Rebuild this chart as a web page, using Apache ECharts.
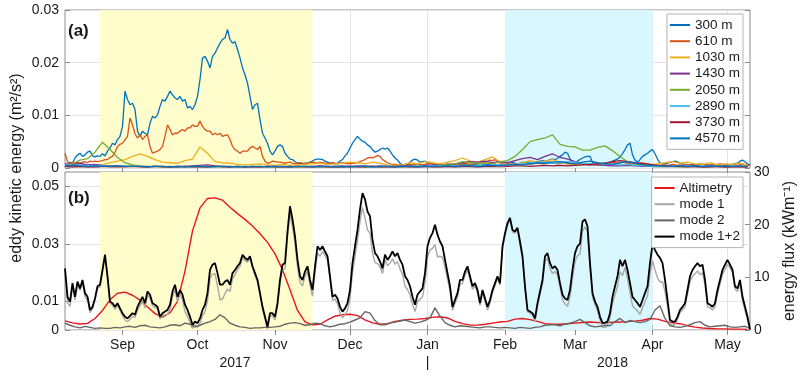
<!DOCTYPE html>
<html>
<head>
<meta charset="utf-8">
<title>EKE and energy flux</title>
<script src="https://cdn.jsdelivr.net/npm/echarts@6/dist/echarts.min.js"></script>
<style>
    html, body { margin: 0; padding: 0; background: #fff; }
    #main { width: 800px; height: 376px; }
</style>
</head>
<body>
<div id="main"></div>
<script>
    // time range and ticks
    var startDate = '2017-08-09';
    var endDate = '2018-05-10';
    var monthTicks = ['2017-09-01', '2017-10-01', '2017-11-01', '2017-12-01', '2018-01-01',
                      '2018-02-01', '2018-03-01', '2018-04-01', '2018-05-01'];
    var monthLabels = ['Sep', 'Oct', 'Nov', 'Dec', 'Jan', 'Feb', 'Mar', 'Apr', 'May'];
    var yearTicks = ['2017-10-16', '2018-01-01', '2018-03-16'];
    var yearLabels = ['2017', '|', '2018'];
    var shadeYellow = ['2017-08-23', '2017-11-16'];
    var shadeCyan = ['2018-02-01', '2018-04-01'];
    var ekeTicksB = [0, 0.01, 0.03, 0.05];

    // (a) eddy kinetic energy by depth (m2/s2)
    var depthNames = ['300 m', '610 m', '1030 m', '1430 m', '2050 m', '2890 m', '3730 m', '4570 m'];

    // daily values
    var eke300 = [
        0.0006, 0.0008, 0.0011, 0.0009, 0.0019, 0.0025, 0.0028, 0.0022, 0.0025, 0.0030,
        0.0032, 0.0023, 0.0021, 0.0023, 0.0022, 0.0027, 0.0023, 0.0032, 0.0038, 0.0047,
        0.0044, 0.0054, 0.0060, 0.0079, 0.0146, 0.0130, 0.0120, 0.0123, 0.0111, 0.0070,
        0.0060, 0.0070, 0.0066, 0.0063, 0.0085, 0.0098, 0.0095, 0.0101, 0.0117, 0.0130,
        0.0127, 0.0136, 0.0146, 0.0139, 0.0133, 0.0130, 0.0136, 0.0127, 0.0130, 0.0114,
        0.0117, 0.0111, 0.0120, 0.0136, 0.0168, 0.0209, 0.0212, 0.0203, 0.0190, 0.0212,
        0.0218, 0.0228, 0.0237, 0.0244, 0.0247, 0.0263, 0.0244, 0.0237, 0.0240, 0.0225,
        0.0209, 0.0190, 0.0177, 0.0161, 0.0136, 0.0111, 0.0120, 0.0123, 0.0092, 0.0066,
        0.0057, 0.0047, 0.0032, 0.0025, 0.0032, 0.0041, 0.0044, 0.0041, 0.0028, 0.0022,
        0.0017, 0.0016, 0.0012, 0.0009, 0.0009, 0.0008, 0.0009, 0.0009, 0.0011, 0.0013,
        0.0016, 0.0017, 0.0017, 0.0016, 0.0013, 0.0011, 0.0009, 0.0009, 0.0008, 0.0009,
        0.0013, 0.0016, 0.0023, 0.0028, 0.0038, 0.0047, 0.0054, 0.0060, 0.0055, 0.0051,
        0.0049, 0.0044, 0.0041, 0.0035, 0.0030, 0.0032, 0.0035, 0.0038, 0.0036, 0.0038,
        0.0032, 0.0025, 0.0019, 0.0015, 0.0009, 0.0006, 0.0006, 0.0007, 0.0011, 0.0015,
        0.0017, 0.0015, 0.0011, 0.0012, 0.0013, 0.0009, 0.0011, 0.0008, 0.0007, 0.0006,
        0.0006, 0.0007, 0.0006, 0.0005, 0.0006, 0.0007, 0.0006, 0.0005, 0.0006, 0.0007,
        0.0006, 0.0006, 0.0005, 0.0006, 0.0007, 0.0006, 0.0005, 0.0006, 0.0006, 0.0007,
        0.0006, 0.0005, 0.0006, 0.0006, 0.0007, 0.0006, 0.0008, 0.0009, 0.0009, 0.0011,
        0.0009, 0.0008, 0.0009, 0.0011, 0.0009, 0.0011, 0.0011, 0.0009, 0.0011, 0.0012,
        0.0013, 0.0014, 0.0013, 0.0013, 0.0016, 0.0017, 0.0016, 0.0018, 0.0022, 0.0025,
        0.0030, 0.0028, 0.0017, 0.0012, 0.0009, 0.0013, 0.0016, 0.0019, 0.0021, 0.0022,
        0.0022, 0.0011, 0.0009, 0.0009, 0.0008, 0.0009, 0.0009, 0.0009, 0.0011, 0.0013,
        0.0015, 0.0017, 0.0021, 0.0027, 0.0035, 0.0044, 0.0047, 0.0025, 0.0015, 0.0011,
        0.0016, 0.0022, 0.0025, 0.0028, 0.0032, 0.0035, 0.0027, 0.0017, 0.0009, 0.0008,
        0.0008, 0.0009, 0.0011, 0.0012, 0.0013, 0.0012, 0.0009, 0.0008, 0.0007, 0.0006,
        0.0006, 0.0007, 0.0006, 0.0005, 0.0006, 0.0007, 0.0006, 0.0006, 0.0005, 0.0006,
        0.0007, 0.0006, 0.0005, 0.0006, 0.0006, 0.0005, 0.0006, 0.0007, 0.0008, 0.0009,
        0.0013, 0.0015, 0.0012, 0.0008, 0.0006
    ];
    var eke610 = [
        0.0028, 0.0012, 0.0009, 0.0010, 0.0009, 0.0010, 0.0009, 0.0011, 0.0012, 0.0010,
        0.0013, 0.0012, 0.0013, 0.0012, 0.0013, 0.0014, 0.0016, 0.0016, 0.0020, 0.0022,
        0.0030, 0.0041, 0.0045, 0.0047, 0.0054, 0.0060, 0.0095, 0.0082, 0.0065, 0.0057,
        0.0063, 0.0054, 0.0060, 0.0063, 0.0041, 0.0028, 0.0030, 0.0032, 0.0035, 0.0041,
        0.0060, 0.0082, 0.0073, 0.0063, 0.0066, 0.0066, 0.0070, 0.0073, 0.0070, 0.0076,
        0.0076, 0.0082, 0.0079, 0.0079, 0.0089, 0.0079, 0.0073, 0.0070, 0.0070, 0.0063,
        0.0066, 0.0063, 0.0066, 0.0060, 0.0062, 0.0063, 0.0054, 0.0041, 0.0035, 0.0032,
        0.0028, 0.0032, 0.0032, 0.0032, 0.0038, 0.0041, 0.0038, 0.0035, 0.0041, 0.0022,
        0.0013, 0.0009, 0.0010, 0.0013, 0.0012, 0.0011, 0.0011, 0.0010, 0.0009, 0.0010,
        0.0011, 0.0009, 0.0008, 0.0009, 0.0010, 0.0009, 0.0008, 0.0009, 0.0010, 0.0011,
        0.0010, 0.0009, 0.0011, 0.0010, 0.0009, 0.0008, 0.0009, 0.0010, 0.0009, 0.0008,
        0.0009, 0.0010, 0.0009, 0.0008, 0.0009, 0.0009, 0.0009, 0.0010, 0.0012, 0.0014,
        0.0016, 0.0019, 0.0020, 0.0019, 0.0021, 0.0024, 0.0022, 0.0016, 0.0013, 0.0010,
        0.0008, 0.0007, 0.0007, 0.0006, 0.0005, 0.0006, 0.0007, 0.0008, 0.0007, 0.0006,
        0.0007, 0.0008, 0.0007, 0.0006, 0.0007, 0.0008, 0.0009, 0.0008, 0.0007, 0.0006,
        0.0007, 0.0006, 0.0007, 0.0008, 0.0007, 0.0006, 0.0007, 0.0008, 0.0007, 0.0008,
        0.0009, 0.0008, 0.0007, 0.0008, 0.0009, 0.0008, 0.0009, 0.0010, 0.0010, 0.0013,
        0.0015, 0.0014, 0.0016, 0.0012, 0.0010, 0.0008, 0.0007, 0.0006, 0.0007, 0.0008,
        0.0007, 0.0006, 0.0007, 0.0008, 0.0009, 0.0008, 0.0007, 0.0008, 0.0009, 0.0010,
        0.0009, 0.0008, 0.0009, 0.0010, 0.0011, 0.0010, 0.0009, 0.0008, 0.0009, 0.0010,
        0.0009, 0.0008, 0.0007, 0.0008, 0.0007, 0.0006, 0.0007, 0.0008, 0.0007, 0.0006,
        0.0006, 0.0007, 0.0008, 0.0007, 0.0006, 0.0007, 0.0008, 0.0009, 0.0010, 0.0011,
        0.0010, 0.0009, 0.0010, 0.0011, 0.0010, 0.0009, 0.0008, 0.0009, 0.0008, 0.0007,
        0.0007, 0.0006, 0.0007, 0.0008, 0.0007, 0.0006, 0.0005, 0.0006, 0.0005, 0.0006,
        0.0006, 0.0005, 0.0006, 0.0007, 0.0006, 0.0005, 0.0006, 0.0005, 0.0006, 0.0007,
        0.0006, 0.0005, 0.0006, 0.0007, 0.0008, 0.0007, 0.0006, 0.0005, 0.0006, 0.0007,
        0.0006, 0.0007, 0.0008, 0.0007, 0.0006, 0.0005, 0.0006, 0.0007, 0.0006, 0.0005,
        0.0006, 0.0007, 0.0006, 0.0005, 0.0005
    ];

    // every 3 days
    var eke1030 = [
        0.0008, 0.0006, 0.0006, 0.0005, 0.0005, 0.0006, 0.0010, 0.0013, 0.0016, 0.0022,
        0.0027, 0.0022, 0.0016, 0.0011, 0.0010, 0.0009, 0.0014, 0.0017, 0.0040, 0.0028,
        0.0012, 0.0010, 0.0009, 0.0007, 0.0006, 0.0007, 0.0008, 0.0006, 0.0005, 0.0007,
        0.0005, 0.0006, 0.0007, 0.0008, 0.0009, 0.0007, 0.0008, 0.0009, 0.0011, 0.0010,
        0.0008, 0.0011, 0.0009, 0.0006, 0.0005, 0.0006, 0.0010, 0.0008, 0.0012, 0.0010,
        0.0008, 0.0011, 0.0014, 0.0019, 0.0013, 0.0011, 0.0016, 0.0021, 0.0012, 0.0008,
        0.0007, 0.0010, 0.0014, 0.0011, 0.0013, 0.0016, 0.0011, 0.0008, 0.0007, 0.0006,
        0.0008, 0.0005, 0.0006, 0.0007, 0.0006, 0.0005, 0.0007, 0.0009, 0.0006, 0.0008,
        0.0010, 0.0012, 0.0009, 0.0011, 0.0008, 0.0007, 0.0010, 0.0006, 0.0008, 0.0007,
        0.0009, 0.0006
    ];
    var eke1430 = [
        0.0008, 0.0007, 0.0009, 0.0006, 0.0007, 0.0005, 0.0004, 0.0004, 0.0003, 0.0003,
        0.0003, 0.0002, 0.0003, 0.0003, 0.0002, 0.0003, 0.0003, 0.0004, 0.0005, 0.0006,
        0.0004, 0.0003, 0.0003, 0.0002, 0.0002, 0.0003, 0.0002, 0.0003, 0.0003, 0.0002,
        0.0003, 0.0002, 0.0003, 0.0003, 0.0004, 0.0003, 0.0003, 0.0004, 0.0003, 0.0004,
        0.0004, 0.0003, 0.0004, 0.0003, 0.0003, 0.0004, 0.0005, 0.0004, 0.0005, 0.0006,
        0.0005, 0.0007, 0.0008, 0.0010, 0.0012, 0.0011, 0.0013, 0.0010, 0.0012, 0.0010,
        0.0014, 0.0018, 0.0020, 0.0016, 0.0022, 0.0027, 0.0020, 0.0017, 0.0012, 0.0008,
        0.0006, 0.0006, 0.0005, 0.0004, 0.0004, 0.0005, 0.0004, 0.0003, 0.0003, 0.0004,
        0.0003, 0.0003, 0.0004, 0.0003, 0.0003, 0.0002, 0.0003, 0.0003, 0.0002, 0.0003,
        0.0003, 0.0002
    ];
    var eke2050 = [
        0.0004, 0.0008, 0.0015, 0.0018, 0.0030, 0.0049, 0.0035, 0.0020, 0.0010, 0.0006,
        0.0004, 0.0003, 0.0003, 0.0002, 0.0003, 0.0002, 0.0002, 0.0003, 0.0002, 0.0003,
        0.0002, 0.0003, 0.0002, 0.0002, 0.0003, 0.0002, 0.0002, 0.0003, 0.0002, 0.0002,
        0.0003, 0.0002, 0.0002, 0.0003, 0.0002, 0.0002, 0.0003, 0.0002, 0.0003, 0.0003,
        0.0002, 0.0003, 0.0002, 0.0003, 0.0003, 0.0002, 0.0003, 0.0004, 0.0003, 0.0004,
        0.0005, 0.0007, 0.0008, 0.0012, 0.0010, 0.0008, 0.0010, 0.0008, 0.0012, 0.0014,
        0.0022, 0.0035, 0.0050, 0.0054, 0.0057, 0.0063, 0.0045, 0.0041, 0.0040, 0.0034,
        0.0034, 0.0039, 0.0042, 0.0033, 0.0022, 0.0012, 0.0008, 0.0005, 0.0004, 0.0003,
        0.0003, 0.0003, 0.0002, 0.0003, 0.0003, 0.0002, 0.0003, 0.0003, 0.0002, 0.0003,
        0.0003, 0.0002
    ];
    var eke2890 = [
        0.0006, 0.0005, 0.0006, 0.0004, 0.0005, 0.0004, 0.0003, 0.0003, 0.0004, 0.0003,
        0.0003, 0.0002, 0.0003, 0.0002, 0.0002, 0.0003, 0.0002, 0.0002, 0.0003, 0.0002,
        0.0002, 0.0003, 0.0002, 0.0002, 0.0003, 0.0002, 0.0003, 0.0002, 0.0002, 0.0003,
        0.0002, 0.0003, 0.0003, 0.0002, 0.0003, 0.0002, 0.0003, 0.0003, 0.0002, 0.0003,
        0.0003, 0.0002, 0.0003, 0.0003, 0.0002, 0.0003, 0.0003, 0.0004, 0.0003, 0.0004,
        0.0004, 0.0003, 0.0004, 0.0005, 0.0004, 0.0005, 0.0004, 0.0005, 0.0006, 0.0006,
        0.0007, 0.0008, 0.0009, 0.0011, 0.0010, 0.0009, 0.0010, 0.0012, 0.0011, 0.0009,
        0.0008, 0.0009, 0.0007, 0.0008, 0.0006, 0.0007, 0.0005, 0.0004, 0.0004, 0.0003,
        0.0004, 0.0003, 0.0003, 0.0004, 0.0003, 0.0003, 0.0004, 0.0003, 0.0003, 0.0004,
        0.0003, 0.0003
    ];
    var eke3730 = [
        0.0003, 0.0002, 0.0003, 0.0002, 0.0002, 0.0003, 0.0002, 0.0002, 0.0002, 0.0003,
        0.0002, 0.0002, 0.0003, 0.0002, 0.0002, 0.0002, 0.0003, 0.0002, 0.0002, 0.0002,
        0.0003, 0.0002, 0.0002, 0.0003, 0.0002, 0.0002, 0.0002, 0.0003, 0.0002, 0.0002,
        0.0002, 0.0003, 0.0002, 0.0002, 0.0003, 0.0002, 0.0002, 0.0002, 0.0003, 0.0002,
        0.0002, 0.0003, 0.0002, 0.0002, 0.0002, 0.0003, 0.0002, 0.0002, 0.0003, 0.0002,
        0.0002, 0.0003, 0.0002, 0.0003, 0.0003, 0.0002, 0.0003, 0.0003, 0.0004, 0.0003,
        0.0004, 0.0004, 0.0003, 0.0004, 0.0005, 0.0004, 0.0005, 0.0004, 0.0005, 0.0006,
        0.0007, 0.0008, 0.0009, 0.0012, 0.0014, 0.0012, 0.0010, 0.0009, 0.0007, 0.0005,
        0.0004, 0.0003, 0.0003, 0.0002, 0.0003, 0.0002, 0.0002, 0.0003, 0.0002, 0.0002,
        0.0002, 0.0002
    ];
    var eke4570 = [
        0.0004, 0.0005, 0.0004, 0.0003, 0.0004, 0.0003, 0.0003, 0.0004, 0.0003, 0.0003,
        0.0003, 0.0002, 0.0003, 0.0003, 0.0002, 0.0003, 0.0002, 0.0003, 0.0003, 0.0002,
        0.0003, 0.0003, 0.0002, 0.0003, 0.0002, 0.0003, 0.0003, 0.0002, 0.0003, 0.0003,
        0.0002, 0.0003, 0.0003, 0.0002, 0.0003, 0.0003, 0.0002, 0.0003, 0.0002, 0.0003,
        0.0003, 0.0002, 0.0003, 0.0003, 0.0002, 0.0003, 0.0003, 0.0002, 0.0003, 0.0003,
        0.0003, 0.0004, 0.0003, 0.0004, 0.0004, 0.0003, 0.0004, 0.0005, 0.0004, 0.0006,
        0.0007, 0.0006, 0.0008, 0.0010, 0.0009, 0.0011, 0.0012, 0.0010, 0.0008, 0.0011,
        0.0013, 0.0010, 0.0008, 0.0007, 0.0010, 0.0012, 0.0009, 0.0006, 0.0005, 0.0004,
        0.0004, 0.0003, 0.0004, 0.0003, 0.0004, 0.0003, 0.0004, 0.0003, 0.0004, 0.0003,
        0.0004, 0.0003
    ];

    // (b) altimetry EKE (m2/s2, every 3 days) and energy flux (kW/m)
    var fluxNames = ['Altimetry', 'mode 1', 'mode 2', 'mode 1+2'];
    var altimetry = [
        0.0032, 0.0025, 0.0021, 0.0023, 0.0040, 0.0068, 0.0105, 0.0128, 0.0132, 0.0121,
        0.0104, 0.0080, 0.0057, 0.0045, 0.0060, 0.0100, 0.0205, 0.0345, 0.0425, 0.0458,
        0.0460, 0.0452, 0.0427, 0.0405, 0.0385, 0.0362, 0.0335, 0.0305, 0.0265, 0.0210,
        0.0140, 0.0068, 0.0028, 0.0018, 0.0020, 0.0035, 0.0048, 0.0053, 0.0055, 0.0050,
        0.0035, 0.0025, 0.0020, 0.0022, 0.0030, 0.0034, 0.0037, 0.0038, 0.0040, 0.0044,
        0.0046, 0.0042, 0.0030, 0.0022, 0.0017, 0.0017, 0.0020, 0.0024, 0.0028, 0.0030,
        0.0038, 0.0040, 0.0036, 0.0030, 0.0022, 0.0020, 0.0020, 0.0022, 0.0024, 0.0026,
        0.0028, 0.0026, 0.0025, 0.0027, 0.0028, 0.0029, 0.0031, 0.0034, 0.0040, 0.0038,
        0.0030, 0.0025, 0.0022, 0.0015, 0.0010, 0.0007, 0.0005, 0.0004, 0.0004, 0.0003,
        0.0003, 0.0002
    ];
    // daily
    var mode1 = [
        10.5, 5.2, 4.5, 8.2, 5.7, 8.7, 7.5, 9.0, 6.3, 5.7,
        3.3, 4.0, 5.7, 7.9, 8.2, 11.0, 14.0, 9.9, 5.1, 4.7,
        3.9, 4.7, 3.7, 2.7, 1.9, 1.6, 2.0, 2.6, 2.4, 3.7,
        4.6, 5.5, 4.2, 6.6, 6.1, 4.6, 4.3, 4.0, 2.1, 2.7,
        2.9, 3.0, 3.9, 6.3, 7.6, 5.4, 6.8, 5.7, 3.5, 2.6,
        1.4, 0.3, 1.0, 0.5, 1.3, 2.7, 3.5, 5.5, 9.8, 10.6,
        10.7, 8.4, 5.7, 5.9, 6.9, 7.8, 7.3, 9.7, 10.5, 11.4,
        12.1, 13.8, 13.2, 12.9, 13.7, 11.8, 10.4, 9.1, 6.6, 4.0,
        2.0, 0.2, 2.7, 2.7, 1.9, 4.5, 8.8, 11.5, 11.6, 17.6,
        22.2, 19.6, 16.4, 12.0, 9.0, 8.4, 10.2, 11.1, 8.5, 6.4,
        10.8, 14.6, 14.0, 14.9, 14.1, 13.3, 9.6, 5.6, 5.9, 5.0,
        3.3, 2.3, 2.9, 3.7, 6.1, 11.0, 14.0, 16.9, 20.6, 23.3,
        21.3, 19.0, 18.4, 14.6, 12.8, 12.6, 12.0, 10.7, 13.3, 12.2,
        12.7, 13.5, 12.5, 13.0, 11.6, 10.6, 8.3, 7.7, 6.7, 4.8,
        3.5, 5.3, 5.8, 6.3, 9.0, 13.8, 15.2, 15.5, 16.2, 13.9,
        14.0, 13.8, 11.9, 9.7, 7.4, 3.7, 5.1, 6.3, 8.7, 8.8,
        10.4, 11.4, 9.6, 7.7, 8.4, 7.1, 4.7, 7.1, 5.4, 3.8,
        5.1, 7.1, 8.4, 9.8, 8.5, 15.4, 17.9, 19.8, 20.9, 18.6,
        18.4, 19.0, 16.3, 13.6, 7.9, 3.5, 3.2, 2.8, 1.7, 4.5,
        6.7, 8.8, 13.1, 13.6, 11.7, 10.7, 11.1, 10.5, 8.1, 5.8,
        4.9, 4.5, 6.3, 9.9, 13.0, 14.1, 14.4, 18.8, 19.6, 18.6,
        11.9, 6.3, 4.8, 3.7, 1.8, 0.5, 0.5, 0.8, 2.4, 5.0,
        6.7, 8.3, 11.1, 10.3, 11.9, 9.8, 7.1, 4.6, 4.1, 3.6,
        3.0, 4.2, 5.4, 6.5, 10.7, 13.2, 11.4, 9.9, 9.1, 9.2,
        7.3, 4.6, 1.1, 0.9, 1.0, 2.0, 3.3, 3.8, 4.4, 6.8,
        9.2, 10.2, 10.7, 11.2, 10.5, 10.9, 8.6, 4.4, 4.2, 3.8,
        4.4, 6.8, 8.7, 10.6, 11.5, 12.5, 11.8, 10.9, 7.8, 7.3,
        8.9, 5.6, 3.7, 2.0, 0.0
    ];
    // every 2 days
    var mode2 = [
        1.3, 0.9, 0.6, 0.4, 0.7, 0.5, 0.3, 0.4, 0.3, 0.3,
        0.5, 0.4, 0.6, 0.7, 0.5, 0.8, 0.9, 0.6, 0.5, 0.4,
        0.6, 0.9, 1.0, 0.8, 1.3, 1.1, 0.6, 0.9, 1.3, 1.6,
        2.0, 2.9, 2.3, 1.3, 0.9, 0.6, 0.5, 0.3, 0.4, 0.4,
        0.5, 0.5, 0.6, 0.7, 1.1, 1.3, 1.4, 1.2, 0.9, 1.0,
        1.3, 1.2, 0.8, 0.6, 0.8, 1.1, 1.2, 1.5, 1.9, 2.3,
        3.5, 3.2, 1.8, 1.0, 1.0, 1.3, 1.5, 1.7, 1.9, 1.6,
        1.3, 1.5, 1.8, 2.3, 4.2, 2.6, 1.4, 0.9, 0.6, 0.8,
        0.7, 0.6, 0.5, 0.4, 0.6, 0.6, 0.5, 0.4, 0.5, 0.4,
        0.3, 0.5, 0.4, 0.3, 0.5, 0.6, 0.9, 1.0, 1.0, 0.8,
        1.1, 1.3, 1.6, 2.0, 1.4, 0.8, 0.6, 0.7, 0.9, 0.8,
        1.6, 2.2, 1.4, 1.8, 1.6, 1.4, 1.6, 2.0, 3.8, 4.6,
        2.2, 0.8, 0.6, 0.5, 0.7, 1.0, 1.4, 1.6, 0.9, 0.6,
        0.7, 0.8, 0.9, 0.6, 0.5, 0.6, 0.7, 0.3
    ];
    // daily
    var mode12 = [
        11.7, 6.3, 5.4, 8.9, 6.3, 9.2, 7.9, 9.5, 7.0, 6.3,
        3.8, 4.4, 6.0, 8.3, 8.6, 11.4, 14.3, 10.2, 5.4, 5.1,
        4.4, 5.1, 4.1, 3.2, 2.5, 2.2, 2.7, 3.2, 2.9, 4.4,
        5.4, 6.3, 5.1, 7.3, 6.7, 5.1, 4.8, 4.4, 2.5, 3.2,
        3.5, 3.8, 4.8, 7.3, 8.6, 6.3, 7.6, 6.7, 4.8, 3.8,
        2.5, 1.0, 1.6, 1.3, 2.2, 3.8, 4.8, 7.0, 11.4, 12.4,
        12.7, 10.8, 8.6, 8.6, 9.2, 9.5, 8.6, 10.8, 11.4, 12.1,
        12.7, 14.3, 13.7, 13.3, 14.0, 12.1, 10.8, 9.5, 7.0, 4.4,
        2.5, 0.6, 3.2, 3.2, 2.5, 5.1, 9.5, 12.4, 12.7, 18.7,
        23.5, 21.0, 17.8, 13.3, 10.2, 9.5, 11.1, 12.1, 9.5, 7.6,
        12.1, 15.9, 15.2, 15.9, 14.9, 14.0, 10.2, 6.3, 6.7, 6.0,
        4.4, 3.5, 4.1, 5.1, 7.6, 12.7, 15.9, 19.0, 22.9, 26.0,
        24.8, 22.5, 21.6, 17.1, 14.6, 14.0, 13.0, 11.7, 14.3, 13.3,
        14.0, 14.9, 14.0, 14.6, 13.3, 12.4, 10.2, 9.5, 8.3, 6.3,
        4.8, 6.7, 7.3, 7.9, 10.8, 15.9, 17.5, 18.4, 20.0, 18.1,
        16.8, 15.9, 13.3, 10.8, 8.3, 4.4, 5.7, 7.0, 9.5, 9.5,
        11.1, 12.1, 10.2, 8.3, 8.9, 7.6, 5.1, 7.6, 6.0, 4.4,
        5.7, 7.6, 8.9, 10.2, 8.9, 15.9, 18.4, 20.3, 21.3, 19.0,
        18.7, 19.4, 16.8, 14.0, 8.3, 3.8, 3.5, 3.2, 2.2, 5.1,
        7.3, 9.5, 14.0, 14.6, 12.7, 11.7, 12.1, 11.4, 8.9, 6.7,
        6.0, 5.7, 7.6, 11.4, 14.6, 15.9, 16.4, 20.6, 21.0, 19.7,
        12.7, 7.0, 5.4, 4.4, 2.5, 1.3, 1.4, 1.6, 3.2, 6.3,
        8.3, 10.2, 13.3, 12.1, 13.3, 11.4, 8.9, 6.3, 5.7, 5.1,
        4.4, 5.7, 7.0, 8.3, 12.7, 16.2, 15.2, 14.3, 13.7, 12.7,
        9.5, 5.7, 1.9, 1.6, 1.6, 2.5, 3.8, 4.4, 5.1, 7.6,
        10.2, 11.4, 12.1, 12.7, 12.1, 12.4, 9.5, 5.1, 4.8, 4.4,
        5.1, 7.6, 9.5, 11.4, 12.4, 13.3, 12.4, 11.4, 8.3, 7.9,
        9.5, 6.3, 4.4, 2.5, 0.1
    ];

    var depthColors = ['#0072BD', '#D95319', '#EDB120', '#7E2F8E', '#77AC30', '#4DBEEE', '#A2142F', '#0072BD'];
    var fluxColors = ['#E8161C', '#A8A8A8', '#666666', '#000000'];

    var DAY = 86400000;
    var FONT = '"Liberation Sans", Arial, Helvetica, sans-serif';
    var TEXT = '#1a1a1a';
    var BOX = '#8c8c8c';
    var GRIDLINE = '#e4e4e4';

    var xMin = Date.parse(startDate);
    var xMax = Date.parse(endDate);
    var monthTimes = monthTicks.map(function (d) { return Date.parse(d); });
    var yearTimes = yearTicks.map(function (d) { return Date.parse(d); });

    function toPairs(values, stepDays) {
        return values.map(function (v, i) { return [xMin + i * stepDays * DAY, v]; });
    }
    function labelFor(times, labels) {
        return function (v) {
            for (var i = 0; i < times.length; i++) {
                if (Math.abs(times[i] - v) < DAY / 2) return labels[i];
            }
            return '';
        };
    }
    function shades() {
        return {
            silent: true,
            data: [
                [{xAxis: Date.parse(shadeYellow[0]), itemStyle: {color: '#FFFDCC'}}, {xAxis: Date.parse(shadeYellow[1])}],
                [{xAxis: Date.parse(shadeCyan[0]), itemStyle: {color: '#D8F7FE'}}, {xAxis: Date.parse(shadeCyan[1])}]
            ]
        };
    }
    // dates as ms on a value axis, so the month ticks can be placed exactly
    function dateAxis(grid, pos, extra) {
        var ax = {
            type: 'value', gridIndex: grid, position: pos, min: xMin, max: xMax,
            axisLine: {show: false},
            axisTick: {show: true, inside: true, length: 5, customValues: monthTimes, lineStyle: {color: BOX}},
            axisLabel: {show: false},
            splitLine: {show: false}
        };
        return Object.assign(ax, extra || {});
    }

    var ekeData = [
        toPairs(eke300, 1), toPairs(eke610, 1), toPairs(eke1030, 3), toPairs(eke1430, 3),
        toPairs(eke2050, 3), toPairs(eke2890, 3), toPairs(eke3730, 3), toPairs(eke4570, 3)
    ];
    var fluxData = [toPairs(altimetry, 3), toPairs(mode1, 1), toPairs(mode2, 2), toPairs(mode12, 1)];

    var series = [];
    depthNames.forEach(function (name, i) {
        var s = {
            name: name, type: 'line', xAxisIndex: 0, yAxisIndex: 0,
            symbol: 'none', data: ekeData[i],
            lineStyle: {width: 1.3, color: depthColors[i]}, itemStyle: {color: depthColors[i]}
        };
        if (i === 0) s.markArea = shades();
        series.push(s);
    });
    fluxNames.forEach(function (name, i) {
        var s = {
            name: name, type: 'line', xAxisIndex: 2, yAxisIndex: i === 0 ? 2 : 3,
            symbol: 'none', data: fluxData[i],
            lineStyle: {width: i === 3 ? 1.8 : 1.4, color: fluxColors[i]}, itemStyle: {color: fluxColors[i]}
        };
        if (i === 0) s.markArea = shades();
        series.push(s);
    });

    var legendBase = {
        orient: 'vertical', right: 57, icon: 'rect', itemWidth: 20, itemHeight: 2, itemGap: 2.2,
        padding: [4, 3, 4, 3], borderColor: '#b4b4b4', borderWidth: 1, backgroundColor: '#fff',
        textStyle: {fontSize: 13.5, fontFamily: FONT, color: TEXT}
    };

    var myChart = echarts.init(document.getElementById('main'));
    myChart.setOption({
        animation: false,
        backgroundColor: '#fff',
        textStyle: {fontFamily: FONT},
        grid: [
            {left: 65, right: 50, top: 10, height: 158, outerBoundsMode: 'none',
             show: true, borderColor: BOX, borderWidth: 1, backgroundColor: 'transparent'},
            {left: 65, right: 50, top: 172, height: 158, outerBoundsMode: 'none',
             show: true, borderColor: BOX, borderWidth: 1, backgroundColor: 'transparent'}
        ],
        xAxis: [
            dateAxis(0, 'bottom', {splitLine: {show: true, lineStyle: {color: GRIDLINE}}}),
            dateAxis(0, 'top'),
            dateAxis(1, 'bottom', {
                splitLine: {show: true, lineStyle: {color: GRIDLINE}},
                axisLabel: {show: true, customValues: monthTimes, formatter: labelFor(monthTimes, monthLabels),
                            margin: 8, fontSize: 14, color: TEXT, fontFamily: FONT}
            }),
            dateAxis(1, 'top'),
            dateAxis(1, 'bottom', {
                offset: 18,
                axisTick: {show: false},
                axisLabel: {show: true, customValues: yearTimes, formatter: labelFor(yearTimes, yearLabels),
                            margin: 8, fontSize: 14, color: TEXT, fontFamily: FONT}
            })
        ],
        yAxis: [
            {
                type: 'value', gridIndex: 0, position: 'left', min: 0, max: 0.03, interval: 0.01,
                axisLine: {show: false},
                axisTick: {show: true, inside: true, length: 5, lineStyle: {color: BOX}},
                axisLabel: {fontSize: 14, color: TEXT, margin: 6, fontFamily: FONT},
                splitLine: {show: true, lineStyle: {color: GRIDLINE}}
            },
            {
                type: 'value', gridIndex: 0, position: 'right', min: 0, max: 0.03, interval: 0.01,
                axisLine: {show: false},
                axisTick: {show: true, inside: true, length: 5, lineStyle: {color: BOX}},
                axisLabel: {show: false}, splitLine: {show: false}
            },
            {
                type: 'value', gridIndex: 1, position: 'left', min: 0, max: 0.055,
                axisLine: {show: false},
                axisTick: {show: true, inside: true, length: 5, customValues: ekeTicksB, lineStyle: {color: BOX}},
                axisLabel: {customValues: ekeTicksB, fontSize: 14, color: TEXT, margin: 6, fontFamily: FONT},
                splitLine: {show: true, lineStyle: {color: GRIDLINE}}
            },
            {
                type: 'value', gridIndex: 1, position: 'right', min: 0, max: 30, interval: 10,
                name: 'energy flux (kWm\u207B\u00B9)', nameLocation: 'middle', nameGap: 32, nameRotate: 90,
                nameTextStyle: {fontSize: 16, color: TEXT, fontFamily: FONT},
                axisLine: {show: false},
                axisTick: {show: true, inside: true, length: 5, lineStyle: {color: BOX}},
                axisLabel: {fontSize: 14, color: TEXT, margin: 4, fontFamily: FONT},
                splitLine: {show: false}
            }
        ],
        legend: [
            Object.assign({}, legendBase, {top: 14, data: depthNames}),
            Object.assign({}, legendBase, {top: 177, data: fluxNames})
        ],
        graphic: [
            {
                type: 'text', x: 17, y: 168, rotation: Math.PI / 2,
                style: {text: 'eddy kinetic energy (m\u00B2/s\u00B2)', fontSize: 16, fontFamily: FONT, fill: TEXT,
                        textAlign: 'center', textVerticalAlign: 'middle', align: 'center', verticalAlign: 'middle'}
            },
            {
                type: 'text', x: 68, y: 31,
                style: {text: '(a)', fontSize: 17, fontWeight: 'bold', fontFamily: FONT, fill: TEXT,
                        textVerticalAlign: 'middle', verticalAlign: 'middle'}
            },
            {
                type: 'text', x: 68, y: 198,
                style: {text: '(b)', fontSize: 17, fontWeight: 'bold', fontFamily: FONT, fill: TEXT,
                        textVerticalAlign: 'middle', verticalAlign: 'middle'}
            }
        ],
        series: series
    });
</script>
</body>
</html>
